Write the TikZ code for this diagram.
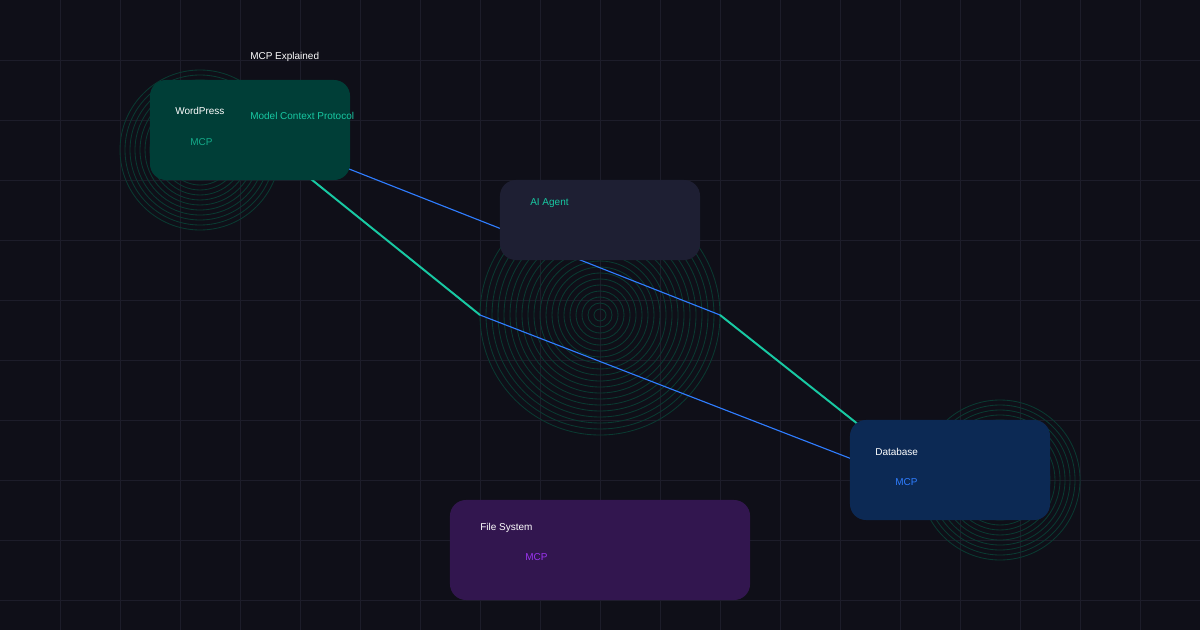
\documentclass[tikz,border=0pt]{standalone}
\usepackage{fontspec}
\setmainfont{Liberation Sans}
\usepackage{tikz}
\usetikzlibrary{arrows.meta}
\usepackage{xcolor}
\definecolor{bgdark}{HTML}{0F0F18}
\definecolor{gridline}{HTML}{1D1D2A}
\definecolor{ringgreen}{HTML}{0A3A31}
\definecolor{wpfill}{HTML}{003E37}
\definecolor{agentfill}{HTML}{1E1F33}
\definecolor{dbfill}{HTML}{0C2954}
\definecolor{fsfill}{HTML}{32164F}
\definecolor{tealaccent}{HTML}{18C9A3}
\definecolor{blueaccent}{HTML}{2F7DFF}
\definecolor{purpleaccent}{HTML}{9B34F0}

\begin{document}
\begin{tikzpicture}[x=0.025cm, y=-0.025cm, >=Latex,
    card/.style={rounded corners=0.4cm, inner sep=0pt},
    lbl/.style={anchor=base west, inner sep=0pt, font=\fontsize{7.1}{8.5}\selectfont},
    ring/.style={ringgreen, line width=0.6pt},
    blueline/.style={blueaccent, line width=0.8pt},
    tealline/.style={tealaccent, line width=1.4pt}]
    \useasboundingbox (0,0) rectangle (1200,630);
    \fill[bgdark] (0,0) rectangle (1200,630);
    % grid
    \foreach \gx in {60,120,...,1140}
      \draw[gridline, line width=0.7pt] (\gx,0) -- (\gx,630);
    \foreach \gy in {60,120,...,600}
      \draw[gridline, line width=0.7pt] (0,\gy) -- (1200,\gy);
    % rings
    \foreach \r in {5,10,...,80} {
      \draw[ring] (200,150) circle[radius=\r*0.025cm];
      \draw[ring] (1000,480) circle[radius=\r*0.025cm];
    }
    \foreach \r in {6,12,...,120}
      \draw[ring] (600,315) circle[radius=\r*0.025cm];
    % links
    \coordinate (agleft) at (480,315);
    \coordinate (agright) at (720,315);
    \coordinate (dbend) at (950,497);
    \coordinate (wpmid) at (250,130);
    \draw[blueline] (wpmid) -- (agright);
    \draw[tealline] (agright) -- (dbend);
    \draw[tealline] (wpmid) -- (agleft);
    \draw[blueline] (agleft) -- (dbend);
    % cards
    \node[card, fill=wpfill, minimum width=5cm, minimum height=2.5cm] (wp) at (250,130) {};
    \node[card, fill=agentfill, minimum width=5cm, minimum height=2cm] (agent) at (600,220) {};
    \node[card, fill=dbfill, minimum width=5cm, minimum height=2.5cm] (db) at (950,470) {};
    \node[card, fill=fsfill, minimum width=7.5cm, minimum height=2.5cm] (fs) at (600,550) {};
    % labels
    \node[lbl, white] (title) at (250,60) {MCP Explained};
    \node[lbl, white] (wpname) at (175,115) {WordPress};
    \node[lbl, tealaccent!85!black] (wpmcp) at (190,145) {MCP};
    \node[lbl, tealaccent] (protocol) at (250,120) {Model Context Protocol};
    \node[lbl, tealaccent] (agentname) at (530,205) {AI Agent};
    \node[lbl, white] (dbname) at (875,455) {Database};
    \node[lbl, blueaccent] (dbmcp) at (895,485) {MCP};
    \node[lbl, white] (fsname) at (480,530) {File System};
    \node[lbl, purpleaccent] (fsmcp) at (525,560) {MCP};
  \end{tikzpicture}
\end{document}
